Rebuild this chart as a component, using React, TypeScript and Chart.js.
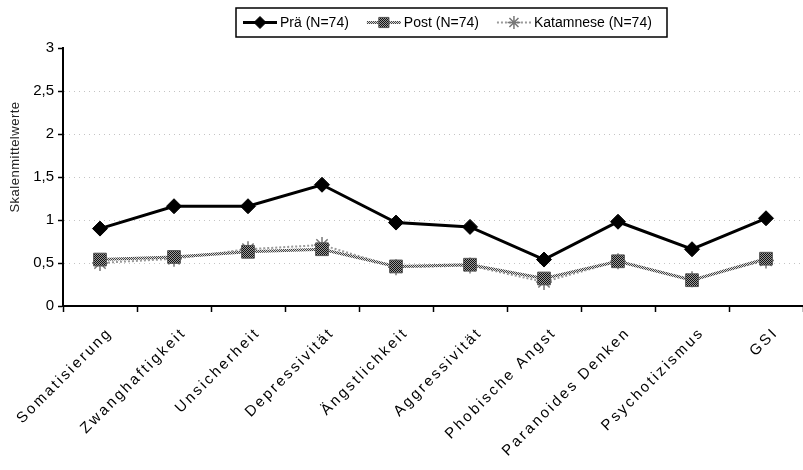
import React, { useEffect, useRef } from "react";
import { Chart, registerables } from "chart.js";
import { drawPoint } from "chart.js/helpers";

Chart.register(...registerables);

const categories = [
  "Somatisierung",
  "Zwanghaftigkeit",
  "Unsicherheit",
  "Depressivität",
  "Ängstlichkeit",
  "Aggressivität",
  "Phobische Angst",
  "Paranoides Denken",
  "Psychotizismus",
  "GSI",
];
const praeValues = [0.9, 1.16, 1.16, 1.41, 0.97, 0.92, 0.54, 0.98, 0.66, 1.02];
const postValues = [0.54, 0.57, 0.63, 0.66, 0.46, 0.48, 0.32, 0.52, 0.3, 0.55];
const katamneseValues = [0.5, 0.55, 0.66, 0.71, 0.45, 0.47, 0.28, 0.52, 0.31, 0.53];
const seriesLabels = ["Prä (N=74)", "Post (N=74)", "Katamnese (N=74)"];
const yTickValues = [0, 0.5, 1, 1.5, 2, 2.5, 3];
const yAxisTitle = "Skalenmittelwerte";

const FONT = "'Liberation Sans', Arial, sans-serif";

function makeChecker(dark: string, light: string): CanvasPattern | string {
  const c = document.createElement("canvas");
  c.width = 2;
  c.height = 2;
  const g = c.getContext("2d");
  if (!g) return dark;
  g.fillStyle = light;
  g.fillRect(0, 0, 2, 2);
  g.fillStyle = dark;
  g.fillRect(0, 0, 1, 1);
  g.fillRect(1, 1, 1, 1);
  return g.createPattern(c, "repeat") || dark;
}

const legendPlugin = {
  id: "boxLegend",
  afterDraw(chart: any) {
    const ctx: CanvasRenderingContext2D = chart.ctx;
    ctx.save();
    ctx.font = `14px ${FONT}`;
    ctx.lineWidth = 1.5;
    ctx.strokeStyle = "#000";
    ctx.setLineDash([]);
    ctx.strokeRect(236, 8, 431, 29);
    let x = 243;
    const cy = 22.5;
    chart.data.datasets.forEach((ds: any) => {
      ctx.save();
      ctx.strokeStyle = ds.borderColor;
      ctx.lineWidth = ds.borderWidth;
      ctx.setLineDash(ds.borderDash || []);
      ctx.beginPath();
      ctx.moveTo(x, cy);
      ctx.lineTo(x + 34, cy);
      ctx.stroke();
      ctx.restore();
      ctx.save();
      ctx.fillStyle = ds.pointBackgroundColor;
      ctx.strokeStyle = ds.pointBorderColor;
      ctx.lineWidth = ds.pointBorderWidth;
      drawPoint(
        ctx,
        {
          pointStyle: ds.pointStyle,
          rotation: 0,
          radius: ds.pointRadius * 0.8,
          borderWidth: ds.pointBorderWidth,
        } as any,
        x + 17,
        cy
      );
      ctx.restore();
      ctx.fillStyle = "#000";
      ctx.textBaseline = "middle";
      ctx.textAlign = "left";
      ctx.fillText(ds.label, x + 37, cy + 1);
      x += 37 + ctx.measureText(ds.label).width + 18;
    });
    ctx.restore();
  },
};

const yTitlePlugin = {
  id: "yTitle",
  afterDraw(chart: any) {
    const ctx: any = chart.ctx;
    ctx.save();
    ctx.translate(15, 157);
    ctx.rotate(-Math.PI / 2);
    ctx.font = `13px ${FONT}`;
    ctx.letterSpacing = "0.5px";
    ctx.fillStyle = "#222";
    ctx.textAlign = "center";
    ctx.textBaseline = "middle";
    ctx.fillText(yAxisTitle, 0, 0);
    ctx.restore();
  },
};

const spacingPlugin = {
  id: "xLabelSpacing",
  afterLayout(chart: any) {
    const xs = chart.scales.x;
    if (!xs || xs.__patched) return;
    const orig = xs.drawLabels.bind(xs);
    xs.drawLabels = (area: any) => {
      const ctx: any = chart.ctx;
      ctx.save();
      ctx.letterSpacing = "2.5px";
      orig(area);
      ctx.restore();
    };
    xs.__patched = true;
  },
};

export default function App() {
  const ref = useRef<HTMLCanvasElement | null>(null);
  useEffect(() => {
    if (!ref.current) return;
    const postLine = makeChecker("#444", "#d8d8d8");
    const postFill = makeChecker("#111", "#9a9a9a");
    const chart = new Chart(ref.current, {
      type: "line",
      data: {
        labels: categories,
        datasets: [
          {
            label: seriesLabels[0],
            data: praeValues,
            borderColor: "#000",
            backgroundColor: "#000",
            borderWidth: 3,
            pointStyle: "rectRot",
            pointRadius: 7.5,
            pointBackgroundColor: "#000",
            pointBorderColor: "#000",
            pointBorderWidth: 1,
            tension: 0,
          },
          {
            label: seriesLabels[1],
            data: postValues,
            borderColor: postLine as any,
            backgroundColor: postFill as any,
            borderWidth: 3,
            pointStyle: "rect",
            pointRadius: 9,
            pointBackgroundColor: postFill as any,
            pointBorderColor: "#555",
            pointBorderWidth: 1,
            tension: 0,
          },
          {
            label: seriesLabels[2],
            data: katamneseValues,
            borderColor: "#9a9a9a",
            backgroundColor: "#9a9a9a",
            borderWidth: 2,
            borderDash: [2, 2],
            pointStyle: "star",
            pointRadius: 8,
            pointBackgroundColor: "#777",
            pointBorderColor: "#777",
            pointBorderWidth: 1.5,
            tension: 0,
          },
        ],
      },
      options: {
        animation: false,
        responsive: false,
        maintainAspectRatio: false,
        devicePixelRatio: 1,
        layout: { autoPadding: false, padding: { top: 48, left: 0, right: -5, bottom: 0 } },
        plugins: {
          legend: { display: false },
          tooltip: { enabled: false },
        },
        scales: {
          x: {
            offset: true,
            grid: {
              offset: true,
              drawOnChartArea: false,
              drawTicks: true,
              tickLength: 6,
              tickColor: "#000",
              tickWidth: 1.5,
            },
            border: { color: "#000", width: 2 },
            ticks: {
              minRotation: 45,
              maxRotation: 45,
              autoSkip: false,
              color: "#000",
              font: { family: FONT, size: 15 },
              padding: 12,
              labelOffset: 10,
            },
            afterFit: (s: any) => {
              s.height = 164;
              s.paddingLeft = 0;
              s.paddingRight = 0;
            },
          },
          y: {
            min: 0,
            max: 3,
            afterBuildTicks: (s: any) => {
              s.ticks = yTickValues.map((v) => ({ value: v }));
            },
            ticks: {
              callback: (v: any) => String(v).replace(".", ","),
              color: "#000",
              font: { family: FONT, size: 15 },
              padding: 4,
            },
            grid: {
              color: (c: any) =>
                c.tick && (c.tick.value === 0 || c.tick.value === 3)
                  ? "rgba(0,0,0,0)"
                  : "#c4c4c4",
              lineWidth: 1,
              tickColor: "#000",
              tickLength: 5,
              tickWidth: 1.5,
            },
            border: { color: "#000", width: 2, dash: [1, 4] },
            afterFit: (s: any) => {
              s.width = 63;
            },
          },
        },
      } as any,
      plugins: [spacingPlugin, legendPlugin, yTitlePlugin],
    });
    return () => chart.destroy();
  }, []);
  return (
    <div style={{ position: "absolute", left: 0, top: 0, width: 803, height: 470, background: "#fff" }}>
      <canvas ref={ref} width={803} height={470} style={{ width: 803, height: 470, display: "block" }} />
    </div>
  );
}
